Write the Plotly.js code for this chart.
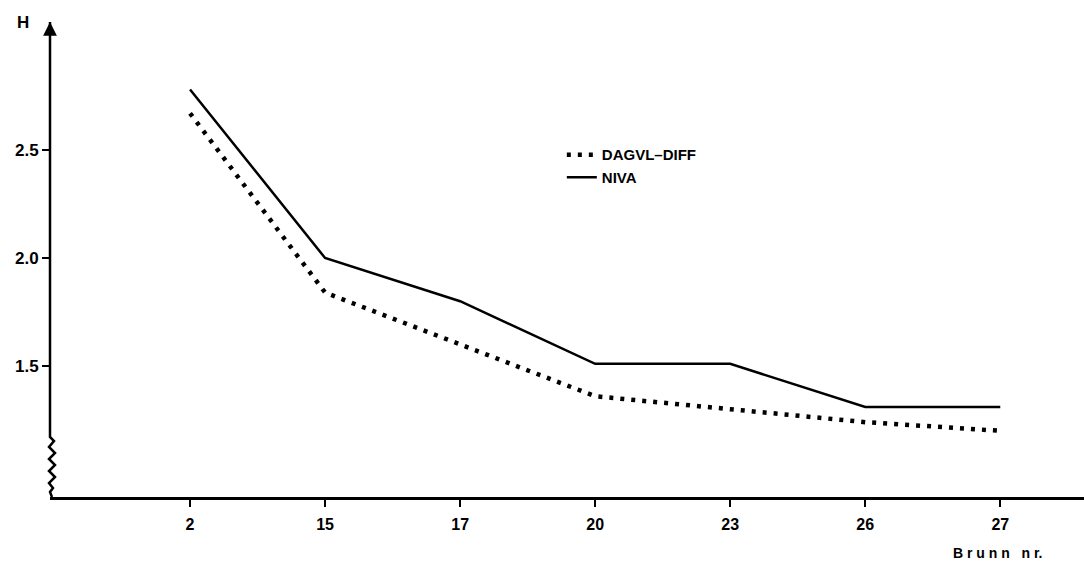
<!DOCTYPE html>
<html>
<head>
<meta charset="utf-8">
<script src="https://cdn.plot.ly/plotly-3.0.1.min.js"></script>
<style>html,body{margin:0;padding:0;background:#fff;}#chart{width:1084px;height:565px;}</style>
</head>
<body>
<div id="chart"></div>
<script>
// Data
const brunn = ["2", "15", "17", "20", "23", "26", "27"];
const dagvlDiff = [2.67, 1.84, 1.60, 1.36, 1.30, 1.24, 1.20];
const niva = [2.78, 2.00, 1.80, 1.51, 1.51, 1.31, 1.31];
const yTickVals = [1.5, 2.0, 2.5];
const yTickText = ["1.5", "2.0", "2.5"];

const idx = brunn.map((_, i) => i);
const fontFam = '"Liberation Sans", Arial, sans-serif';

const traces = [
  {
    x: idx, y: dagvlDiff, name: "DAGVL\u2013DIFF", mode: "lines",
    line: {color: "#000", width: 4.5, dash: "4px,7px"}
  },
  {
    x: idx, y: niva, name: "NIVA", mode: "lines",
    line: {color: "#000", width: 2.5}
  }
];

// axis break path (pixel offsets converted to paper units)
const W = 1034, H = 475;
function px(dx) { return (dx / W).toFixed(5); }
function py(p) { return ((497 - p) / H).toFixed(5); }
const zig = [[0, 22], [0, 437], [4, 441], [-1, 447], [5, 453], [-1, 459], [5, 465], [-1, 471], [5, 477], [-1, 483], [3, 488], [0, 492], [2, 497]];
const zigPath = zig.map((p, i) => (i ? "L " : "M ") + px(p[0]) + "," + py(p[1])).join(" ");

const layout = {
  width: 1084, height: 565,
  margin: {l: 50, r: 0, t: 22, b: 68},
  paper_bgcolor: "#fff", plot_bgcolor: "#fff",
  showlegend: true,
  legend: {
    x: 0.495, y: 0.755, xanchor: "left", yanchor: "top",
    bgcolor: "rgba(0,0,0,0)",
    font: {family: fontFam, size: 15, color: "#000", weight: "bold"},
    tracegroupgap: 0
  },
  xaxis: {
    range: [-1.037, 6.62],
    tickvals: idx, ticktext: brunn,
    showgrid: false, zeroline: false,
    showline: true, linecolor: "#000", linewidth: 2.5,
    ticks: "outside", ticklen: 7, tickwidth: 2, tickcolor: "#000",
    ticklabelstandoff: 4,
    tickfont: {family: fontFam, size: 16, color: "#000", weight: "bold"}
  },
  yaxis: {
    range: [0.8935, 3.0926],
    tickvals: yTickVals, ticktext: yTickText,
    showgrid: false, zeroline: false,
    showline: false,
    ticks: "outside", ticklen: 7, tickwidth: 2, tickcolor: "#000",
    tickfont: {family: fontFam, size: 17, color: "#000", weight: "bold"}
  },
  shapes: [
    {type: "path", xref: "paper", yref: "paper", path: zigPath,
     line: {color: "#000", width: 2.5}}
  ],
  annotations: [
    {xref: "paper", yref: "paper", x: 0, y: 1.0, ax: 0, ay: 12, axref: "pixel", ayref: "pixel",
     showarrow: true, arrowhead: 2, arrowsize: 1.1, arrowwidth: 2.5, arrowcolor: "#000", text: ""},
    {xref: "paper", yref: "paper", x: -0.034, y: 1.0, xanchor: "left", yanchor: "middle",
     text: "H", showarrow: false, font: {family: fontFam, size: 17, color: "#000", weight: "bold"}},
    {xref: "paper", yref: "paper", x: 0.916, y: -0.118, xanchor: "center", yanchor: "middle",
     text: "B r u n n   n r.", showarrow: false, font: {family: fontFam, size: 14, color: "#000", weight: "bold"}}
  ]
};

Plotly.newPlot("chart", traces, layout, {displayModeBar: false, staticPlot: true});
</script>
</body>
</html>
